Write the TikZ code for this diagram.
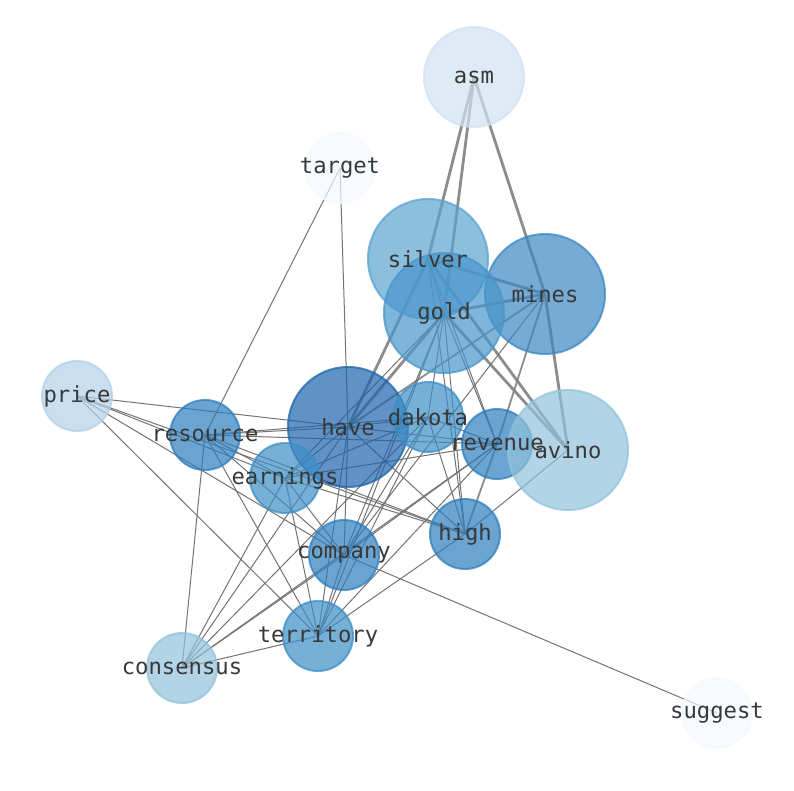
\documentclass[tikz,border=0pt]{standalone}
\usepackage{fontspec}
\setmonofont{DejaVu Sans Mono}
\usepackage{xcolor}

\definecolor{cHave}{RGB}{30,100,172}
\definecolor{cMines}{RGB}{58,136,194}
\definecolor{cSilver}{RGB}{91,162,208}
\definecolor{cGold}{RGB}{72,150,203}
\definecolor{cMid}{RGB}{45,126,189}
\definecolor{cDakota}{RGB}{60,142,198}
\definecolor{cAvino}{RGB}{145,194,219}
\definecolor{cPrice}{RGB}{178,208,231}
\definecolor{cAsm}{RGB}{208,225,241}
\definecolor{cPale}{RGB}{244,249,255}
\definecolor{wordgray}{RGB}{56,56,56}

\pgfdeclarelayer{edges}
\pgfdeclarelayer{discs}
\pgfsetlayers{edges,discs,main}

\begin{document}
\begin{tikzpicture}[
        x=1pt, y=-1pt,
        word/.style={font=\ttfamily\fontsize{22.2}{26}\selectfont, text=wordgray, inner sep=0pt},
        disc/.style={fill opacity=0.7, draw opacity=0.75, line width=2pt},
        link/.style={draw=black!55, line width=1pt},
        heavy/.style={draw=black!50, line width=2.8pt, opacity=0.9},
        medium/.style={draw=black!50, line width=1.8pt, opacity=0.9}]
        \useasboundingbox (0,0) rectangle (794,790);
        % NODES
        \node[word] (asm) at (474,77) {asm};
        \node[word] (target) at (340,168) {target};
        \node[word] (silver) at (428,259) {silver};
        \node[word] (mines) at (545,294) {mines};
        \node[word] (gold) at (444,313) {gold};
        \node[word] (price) at (77,396) {price};
        \node[word] (have) at (348,427) {have};
        \node[word] (dakota) at (428,417) {dakota};
        \node[word] (resource) at (205,435) {resource};
        \node[word] (revenue) at (497,444) {revenue};
        \node[word] (avino) at (568,450) {avino};
        \node[word] (earnings) at (285,478) {earnings};
        \node[word] (high) at (465,534) {high};
        \node[word] (company) at (344,555) {company};
        \node[word] (territory) at (318,636) {territory};
        \node[word] (consensus) at (182,668) {consensus};
        \node[word] (suggest) at (717,713) {suggest};

        % DISCS
        \begin{pgfonlayer}{discs}
        \foreach \n/\r/\c in {asm/50/cAsm, target/35/cPale, silver/60/cSilver,
            mines/60/cMines, gold/60/cGold, price/35/cPrice, have/60/cHave,
            dakota/35/cDakota, resource/35/cMid, revenue/35/cMid, avino/60/cAvino,
            earnings/35/cDakota, high/35/cMid, company/35/cMid,
            territory/35/cDakota, consensus/35/cAvino, suggest/35/cPale}
            \path[disc, fill=\c, draw=\c] (\n.center) circle[radius=\r pt];
        \end{pgfonlayer}

        % EDGES
        \begin{pgfonlayer}{edges}
        \foreach \a/\b in {asm/silver, asm/gold, asm/mines, silver/mines, gold/mines,
            silver/avino, gold/avino, mines/avino, silver/have, gold/have}
            \draw[heavy] (\a.center) -- (\b.center);
        \foreach \a/\b in {mines/have, silver/gold, mines/revenue, revenue/high}
            \draw[medium] (\a.center) -- (\b.center);
        \foreach \a/\b in {target/resource, target/have,
            price/have, price/earnings, price/high, price/company, price/territory,
            resource/have, resource/dakota, resource/revenue, resource/earnings,
            resource/company, resource/high, resource/territory, resource/consensus,
            earnings/have, earnings/dakota, earnings/revenue, earnings/company,
            earnings/territory, earnings/consensus, earnings/high, earnings/gold,
            have/dakota, have/revenue, have/high, have/company, have/territory,
            have/consensus, dakota/gold, dakota/high, dakota/company,
            dakota/territory, dakota/revenue, revenue/gold, revenue/silver,
            revenue/company, revenue/territory, revenue/consensus, avino/high,
            high/gold, high/silver, high/territory, company/gold,
            company/territory, company/consensus, company/suggest, company/mines,
            territory/consensus, territory/gold, consensus/dakota}
            \draw[link] (\a.center) -- (\b.center);
        \end{pgfonlayer}
    \end{tikzpicture}
\end{document}
